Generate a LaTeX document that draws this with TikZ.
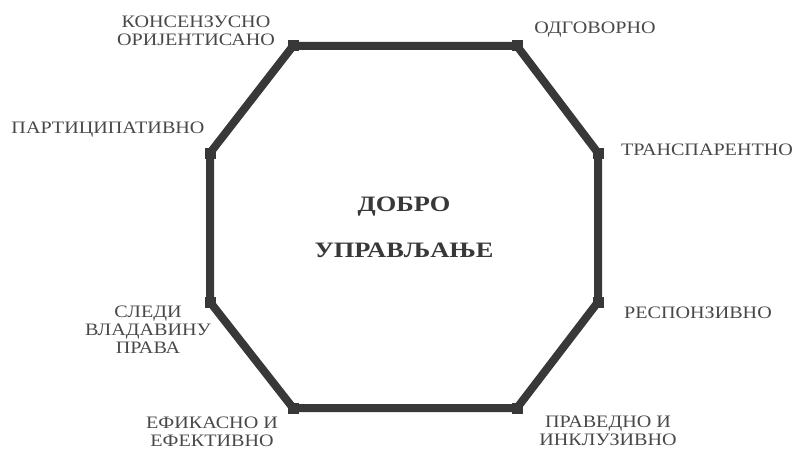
\documentclass[tikz,border=0pt]{standalone}
\usepackage{fontspec}
\setmainfont{Liberation Serif}
\newfontfamily\widefont[FakeStretch=1.15]{Liberation Serif}
\newfontfamily\widebold[FakeStretch=1.2]{Liberation Serif Bold}
\usepackage{tikz}
\usetikzlibrary{positioning}
\definecolor{GEdge}{HTML}{383838}
\definecolor{GText}{HTML}{484848}

\tikzset{
  lbl/.style={font=\widefont\fontsize{17.5}{18}\selectfont,text=GText,align=center,inner sep=0pt},
  title/.style={font=\widebold\fontsize{22}{24}\selectfont,text=GEdge,inner sep=0pt},
  corner/.style={fill=GEdge,minimum size=11pt,inner sep=0pt}
}

\begin{document}
\begin{tikzpicture}[x=1pt,y=-1pt]
  \useasboundingbox (0,0) rectangle (795,452);
  % vertices of the octagon
  \foreach \n/\x/\y in {a/293/46,b/517/46,c/598/153,d/598/302,e/517/408,f/293/408,g/210/302,h/210/153}
    \coordinate (\n) at (\x,\y);
  \draw[GEdge,line width=8pt,line join=miter] (a)--(b)--(c)--(d)--(e)--(f)--(g)--(h)--cycle;
  \foreach \n in {a,b,c,d,e,f,g,h}
    \node[corner] (sq\n) at (\n) {};
  % labels
  \node[lbl] (cons) at (196,31) {КОНСЕНЗУСНО\\ОРИЈЕНТИСАНО};
  \node[lbl] (odg) at (595,30) {ОДГОВОРНО};
  \node[lbl] (trans) at (707,150) {ТРАНСПАРЕНТНО};
  \node[lbl] (resp) at (698,313) {РЕСПОНЗИВНО};
  \node[lbl] (prav) at (608,431) {ПРАВЕДНО И\\ИНКЛУЗИВНО};
  \node[lbl] (efik) at (212,432) {ЕФИКАСНО И\\ЕФЕКТИВНО};
  \node[lbl] (sled) at (148,330) {СЛЕДИ\\ВЛАДАВИНУ\\ПРАВА};
  \node[lbl] (part) at (108,130) {ПАРТИЦИПАТИВНО};
  \node[title] (dob) at (404,207) {ДОБРО};
  \node[title] (upr) at (404,250) {УПРАВЉАЊЕ};
\end{tikzpicture}
\end{document}
